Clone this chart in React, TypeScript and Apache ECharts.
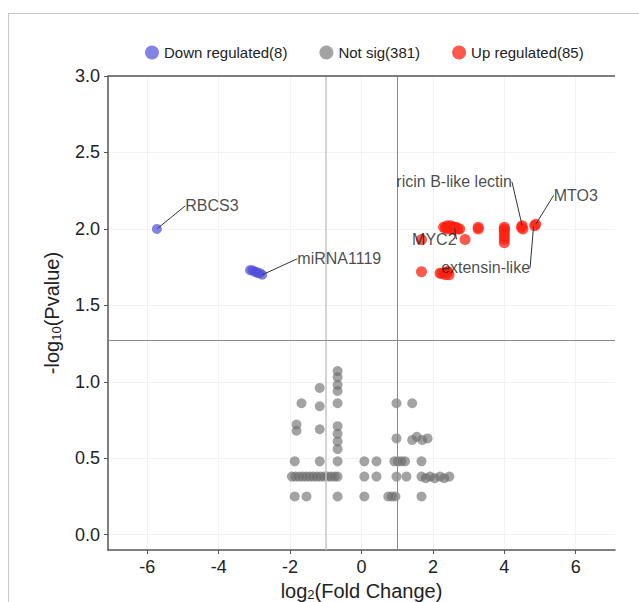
import React, { useEffect, useRef } from "react";
import * as echarts from "echarts";

const xTicks = [-6, -4, -2, 0, 2, 4, 6];
const yTicks = [0, 0.5, 1.0, 1.5, 2.0, 2.5, 3.0];
const xRange = [-7.1, 7.1];
const yRange = [-0.1, 3.0];
const fcThresholds = [-1, 1];
const pThreshold = 1.27;

const legendNames = ["Down regulated(8)", "Not sig(381)", "Up regulated(85)"];

const downX = [-5.73, -3.12, -3.06, -3.0, -2.95, -2.9, -2.84, -2.78];
const downY = [2.0, 1.73, 1.73, 1.72, 1.72, 1.71, 1.71, 1.7];

const upX = [
  2.3, 2.35, 2.4, 2.45, 2.5, 2.55, 2.6, 2.65, 2.7, 2.75, 2.4, 2.5, 2.6,
  3.27, 3.27, 2.9, 1.68,
  4.0, 4.0, 4.0, 4.0, 4.0, 4.0, 4.0,
  4.48, 4.5, 4.52, 4.85, 4.88,
  1.68, 2.2, 2.25, 2.35, 2.4, 2.45, 2.42,
];
const upY = [
  2.01, 2.01, 2.0, 2.01, 2.0, 2.01, 2.0, 2.01, 2.0, 2.0, 2.02, 2.02, 2.01,
  2.01, 2.0, 1.93, 1.93,
  1.91, 1.93, 1.95, 1.97, 1.99, 2.01, 2.0,
  2.01, 2.02, 2.0, 2.02, 2.03,
  1.72, 1.71, 1.71, 1.7, 1.72, 1.7, 1.72,
];

const nsX = [
  -0.67, -0.67, -0.67, -0.67, -1.17, -1.68, -1.17, -0.67,
  -1.82, -1.82, -1.17, -0.67, -0.67, -0.67, -0.67,
  -1.87, -1.17, -0.67,
  -1.95, -1.85, -1.75, -1.65, -1.55, -1.45, -1.35, -1.25, -1.15, -1.05, -0.95, -0.85, -0.75, -0.67,
  -1.87, -1.54, -0.67,
  0.08, 0.42, 0.08, 0.42, 0.08,
  0.98, 1.42, 0.98, 1.42, 1.55, 1.7, 1.85,
  0.92, 1.02, 1.12, 1.22, 1.68,
  0.98, 1.26, 1.68, 1.8, 1.92, 2.05, 2.2, 2.32, 2.46,
  0.75, 0.85, 0.95, 1.68,
];
const nsY = [
  1.07, 1.03, 0.98, 0.94, 0.96, 0.86, 0.84, 0.86,
  0.72, 0.68, 0.69, 0.71, 0.66, 0.61, 0.56,
  0.48, 0.48, 0.48,
  0.38, 0.38, 0.38, 0.38, 0.38, 0.38, 0.38, 0.38, 0.38, 0.38, 0.38, 0.38, 0.38, 0.38,
  0.25, 0.25, 0.25,
  0.48, 0.48, 0.38, 0.38, 0.25,
  0.86, 0.86, 0.63, 0.62, 0.64, 0.62, 0.63,
  0.48, 0.48, 0.48, 0.48, 0.48,
  0.38, 0.38, 0.38, 0.37, 0.38, 0.37, 0.38, 0.37, 0.38,
  0.25, 0.25, 0.25, 0.25,
];

const geneNames = ["RBCS3", "miRNA1119", "ricin B-like lectin", "MTO3", "MYC2", "extensin-like"];
const geneX = [-5.73, -2.78, 4.5, 4.88, 2.6, 4.82];
const geneY = [2.0, 1.7, 2.02, 2.03, 2.01, 2.02];
const labelDx = [55, 77, -68, 40, -20, -48];
const labelDy = [-23, -16, -44, -29, 12, 42];

const FONT = "Liberation Sans, Arial, sans-serif";

export default function App() {
  const ref = useRef<HTMLDivElement>(null);
  useEffect(() => {
    if (!ref.current) return;
    const chart = echarts.init(ref.current, null, { renderer: "svg" });
    const zip = (xs: number[], ys: number[]) => xs.map((x, i) => [x, ys[i]]);
    chart.setOption({
      animation: false,
      textStyle: { fontFamily: FONT },
      graphic: [
        { type: "line", shape: { x1: 8.5, y1: 13, x2: 8.5, y2: 602 }, style: { stroke: "#c8c8c8", lineWidth: 1 } },
        { type: "line", shape: { x1: 8, y1: 13.5, x2: 639, y2: 13.5 }, style: { stroke: "#c8c8c8", lineWidth: 1 } },
      ],
      legend: {
        top: 40,
        left: 140,
        icon: "circle",
        itemWidth: 14,
        itemHeight: 14,
        itemGap: 32,
        textStyle: { fontSize: 15, color: "#222", fontFamily: FONT },
        data: legendNames,
      },
      grid: { left: 108, top: 76, right: 24, bottom: 52, outerBoundsMode: "none", containLabel: false },
      xAxis: {
        type: "value",
        min: xRange[0],
        max: xRange[1],
        name: "log{s|2}(Fold Change)",
        nameLocation: "middle",
        nameGap: 29,
        nameTextStyle: {
          fontSize: 20,
          color: "#222",
          fontFamily: FONT,
          rich: { s: { fontSize: 13, padding: [7, 0, 0, 0], color: "#222" } },
        },
        axisLine: { show: true, onZero: false, lineStyle: { color: "#555", width: 1.5 } },
        axisTick: { show: true, customValues: xTicks, length: 4, lineStyle: { color: "#555" } },
        axisLabel: { customValues: xTicks, fontSize: 18, color: "#222", margin: 8, fontFamily: FONT },
        splitLine: { show: true, lineStyle: { color: "#f2f2f2", width: 1 } },
      },
      yAxis: {
        type: "value",
        min: yRange[0],
        max: yRange[1],
        name: "-log{s|10}(Pvalue)",
        nameLocation: "middle",
        nameGap: 45,
        nameRotate: 90,
        nameTextStyle: {
          fontSize: 20,
          color: "#222",
          fontFamily: FONT,
          rich: { s: { fontSize: 13, color: "#222", padding: [10, 0, 0, 0] } },
        },
        axisLine: { show: true, onZero: false, lineStyle: { color: "#555", width: 1.5 } },
        axisTick: { show: true, customValues: yTicks, length: 4, lineStyle: { color: "#555" } },
        axisLabel: {
          customValues: yTicks,
          fontSize: 18,
          color: "#222",
          margin: 8,
          fontFamily: FONT,
          formatter: (v: number) => v.toFixed(1),
        },
        splitLine: { show: true, lineStyle: { color: "#f2f2f2", width: 1 } },
      },
      series: [
        {
          name: legendNames[0],
          type: "scatter",
          symbolSize: 10,
          itemStyle: { color: "#5050d8", opacity: 0.7 },
          data: zip(downX, downY),
          z: 3,
        },
        {
          name: legendNames[1],
          type: "scatter",
          symbolSize: 10,
          itemStyle: { color: "#6a6a6a", opacity: 0.62 },
          data: zip(nsX, nsY),
          z: 3,
          markLine: {
            silent: true,
            symbol: "none",
            label: { show: false },
            data: [
              { xAxis: fcThresholds[0], lineStyle: { color: "#c4c4c4", width: 1.5, type: "solid" } },
              { xAxis: fcThresholds[1], lineStyle: { color: "#8a8a8a", width: 1, type: "solid" } },
              { yAxis: pThreshold, lineStyle: { color: "#8a8a8a", width: 1, type: "solid" } },
              { yAxis: yRange[1], lineStyle: { color: "#555", width: 1.5, type: "solid" } },
            ],
          },
        },
        {
          name: legendNames[2],
          type: "scatter",
          symbolSize: 11,
          itemStyle: { color: "#ff2010", opacity: 0.75 },
          data: zip(upX, upY),
          z: 3,
        },
        {
          name: "labels",
          type: "scatter",
          symbolSize: 1,
          itemStyle: { color: "rgba(0,0,0,0)" },
          data: geneX.map((x, i) => ({ value: [x, geneY[i]], name: geneNames[i] })),
          z: 10,
          zlevel: 1,
          label: {
            show: true,
            position: "inside",
            formatter: (p: any) => p.name,
            fontSize: 16,
            color: "#1a1a1a",
            fontFamily: FONT,
          },
          labelLine: { show: true, lineStyle: { color: "#333", width: 1 } },
          labelLayout: (p: any) => ({ dx: labelDx[p.dataIndex], dy: labelDy[p.dataIndex] }),
        },
      ],
    });
    return () => chart.dispose();
  }, []);
  return (
    <div
      ref={ref}
      style={{ position: "absolute", left: 0, top: 0, width: 639, height: 602, background: "#fff" }}
    />
  );
}
